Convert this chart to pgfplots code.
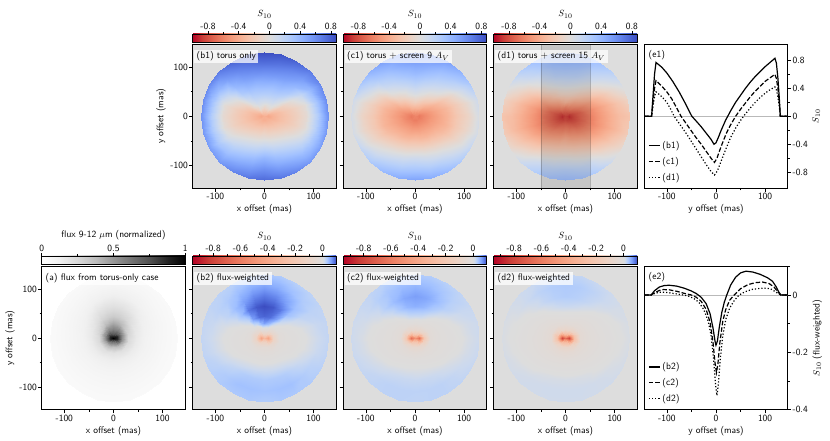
\documentclass[border=0pt]{standalone}
\usepackage{fontspec}
\usepackage{pgfplots}
\usepackage{pgfplotstable}
\pgfplotsset{compat=1.18}
\definecolor{bgg}{RGB}{221,221,221}

\pgfplotsset{
 colormap={cwtop}{rgb255(0pt)=(180,4,38) rgb255(125pt)=(203,62,56) rgb255(250pt)=(222,96,77) rgb255(375pt)=(236,127,99) rgb255(500pt)=(244,154,123) rgb255(625pt)=(247,177,148) rgb255(750pt)=(245,196,173) rgb255(875pt)=(236,211,197) rgb255(1000pt)=(221,221,221) rgb255(1109pt)=(204,217,238) rgb255(1218pt)=(184,208,249) rgb255(1326pt)=(163,194,255) rgb255(1435pt)=(141,176,254) rgb255(1544pt)=(119,154,247) rgb255(1653pt)=(98,130,234) rgb255(1761pt)=(77,104,215) rgb255(1870pt)=(59,76,192)},
 colormap={cwbot}{rgb255(0pt)=(180,4,38) rgb255(119pt)=(203,62,56) rgb255(238pt)=(222,96,77) rgb255(356pt)=(236,127,99) rgb255(475pt)=(244,154,123) rgb255(594pt)=(247,177,148) rgb255(713pt)=(245,196,173) rgb255(831pt)=(236,211,197) rgb255(950pt)=(221,221,221) rgb255(963pt)=(204,217,238) rgb255(975pt)=(184,208,249) rgb255(988pt)=(163,194,255) rgb255(1000pt)=(141,176,254) rgb255(1013pt)=(119,154,247) rgb255(1025pt)=(98,130,234) rgb255(1038pt)=(77,104,215) rgb255(1050pt)=(59,76,192)},
 colormap={greys}{rgb255(0pt)=(255,255,255) rgb255(1pt)=(240,240,240) rgb255(2pt)=(217,217,217) rgb255(3pt)=(189,189,189) rgb255(4pt)=(150,150,150) rgb255(5pt)=(115,115,115) rgb255(6pt)=(82,82,82) rgb255(7pt)=(37,37,37) rgb255(8pt)=(0,0,0)},
}

\pgfplotsset{
 base/.style={scale only axis, anchor=south west, tick align=outside,
   major tick length=3.5bp, minor tick length=2bp,
   tick style={black, line width=0.6bp}, axis line style={line width=0.7bp},
   xtick pos=left, no marks,
   /pgf/number format/assume math mode=true,
   tick label style={font=\sffamily\fontsize{9.5}{11}\selectfont, inner sep=1.2bp},
   xtick={-100,0,100}, minor xtick={-50,50},
   xmin=-146, xmax=146, width=143.5bp, height=143.5bp},
 hm/.style={base, ymin=-146, ymax=146, ytick={-100,0,100}, minor ytick={-50,50},
   ytick pos=left, xlabel={x offset (mas)}},
 cbcommon/.style={colorbar horizontal, colorbar shift/.style={},
   colorbar style={at={(parent axis.north west)}, anchor=south west,
   yshift=1.8bp, width=143.5bp, height=8.5bp, scale only axis,
   xtick pos=right, xticklabel pos=right, tick align=outside,
   major tick length=3bp, minor tick length=1.8bp,
   tick style={black, line width=0.6bp}, axis line style={line width=0.6bp},
   /pgf/number format/assume math mode=true,
   tick label style={font=\sffamily\fontsize{9.5}{11}\selectfont, inner sep=1.2bp}}},
 cbtop/.style={cbcommon, colormap name=cwtop, point meta min=-1, point meta max=0.87,
   colorbar style={xtick={-0.8,-0.4,0,0.4,0.8}, minor xtick={-0.6,-0.2,0.2,0.6}, xlabel={$S_{10}$}}},
 cbbot/.style={cbcommon, colormap name=cwbot, point meta min=-0.95, point meta max=0.1,
   colorbar style={xtick={-0.8,-0.6,-0.4,-0.2,0}, minor xtick={-0.9,-0.7,-0.5,-0.3,-0.1}, xlabel={$S_{10}$}}},
 cbgrey/.style={cbcommon, colormap name=greys, point meta min=0, point meta max=1,
   colorbar style={xtick={0,0.5,1}, minor xtick={0.25,0.75}, xlabel={flux 9-12 $\mu$m (normalized)}}},
 hmplot/.style={surf, shader=interp, data cs=polar, mesh/cols=25, point meta=explicit},
 elegend/.style={legend style={at={(0.02,0.025)}, anchor=south west, draw=none, fill=none,
    row sep=3.3bp, inner sep=1bp, font=\sffamily\fontsize{9.5}{11}\selectfont},
  legend cell align=left,
  legend image code/.code={\draw[##1] (0bp,0bp) -- (11bp,0bp);}},
}
\tikzset{lbl/.style={anchor=north west, xshift=1.3bp, yshift=-5.5bp, fill=white, fill opacity=0.75,
   text opacity=1, inner xsep=2.5bp, inner ysep=1.6bp}}

\pgfplotstableread{
t r b1 c1 d1 fa b2 c2 d2
-90 0 -0.38 -0.6 -0.85 1 -0.3 -0.5 -0.65
-75 0 -0.38 -0.6 -0.85 1 -0.3 -0.5 -0.65
-60 0 -0.38 -0.6 -0.85 1 -0.3 -0.5 -0.65
-45 0 -0.38 -0.6 -0.85 1 -0.3 -0.5 -0.65
-30 0 -0.38 -0.6 -0.85 1 -0.3 -0.5 -0.65
-15 0 -0.38 -0.6 -0.85 1 -0.3 -0.5 -0.65
0 0 -0.38 -0.6 -0.85 1 -0.3 -0.5 -0.65
15 0 -0.38 -0.6 -0.85 1 -0.3 -0.5 -0.65
30 0 -0.38 -0.6 -0.85 1 -0.3 -0.5 -0.65
45 0 -0.38 -0.6 -0.85 1 -0.3 -0.5 -0.65
60 0 -0.38 -0.6 -0.85 1 -0.3 -0.5 -0.65
75 0 -0.38 -0.6 -0.85 1 -0.3 -0.5 -0.65
90 0 -0.38 -0.6 -0.85 1 -0.3 -0.5 -0.65
105 0 -0.38 -0.6 -0.85 1 -0.3 -0.5 -0.65
120 0 -0.38 -0.6 -0.85 1 -0.3 -0.5 -0.65
135 0 -0.38 -0.6 -0.85 1 -0.3 -0.5 -0.65
150 0 -0.38 -0.6 -0.85 1 -0.3 -0.5 -0.65
165 0 -0.38 -0.6 -0.85 1 -0.3 -0.5 -0.65
180 0 -0.38 -0.6 -0.85 1 -0.3 -0.5 -0.65
195 0 -0.38 -0.6 -0.85 1 -0.3 -0.5 -0.65
210 0 -0.38 -0.6 -0.85 1 -0.3 -0.5 -0.65
225 0 -0.38 -0.6 -0.85 1 -0.3 -0.5 -0.65
240 0 -0.38 -0.6 -0.85 1 -0.3 -0.5 -0.65
255 0 -0.38 -0.6 -0.85 1 -0.3 -0.5 -0.65
270 0 -0.38 -0.6 -0.85 1 -0.3 -0.5 -0.65
-90 8 -0.38 -0.63 -0.82 0.60 -0.13 -0.21 -0.29
-75 8 -0.38 -0.63 -0.83 0.62 -0.13 -0.22 -0.30
-60 8 -0.37 -0.62 -0.84 0.66 -0.16 -0.26 -0.34
-45 8 -0.37 -0.62 -0.86 0.72 -0.22 -0.34 -0.44
-30 8 -0.38 -0.63 -0.88 0.80 -0.30 -0.46 -0.58
-15 8 -0.41 -0.64 -0.90 0.86 -0.38 -0.58 -0.72
0 8 -0.42 -0.64 -0.90 0.88 -0.42 -0.65 -0.80
15 8 -0.40 -0.63 -0.88 0.88 -0.38 -0.58 -0.72
30 8 -0.36 -0.60 -0.85 0.85 -0.30 -0.46 -0.58
45 8 -0.32 -0.57 -0.82 0.80 -0.22 -0.34 -0.44
60 8 -0.28 -0.54 -0.79 0.76 -0.16 -0.26 -0.34
75 8 -0.26 -0.52 -0.76 0.74 -0.13 -0.22 -0.30
90 8 -0.25 -0.50 -0.75 0.72 -0.12 -0.20 -0.28
105 8 -0.26 -0.52 -0.76 0.74 -0.13 -0.22 -0.30
120 8 -0.28 -0.54 -0.79 0.76 -0.16 -0.26 -0.34
135 8 -0.32 -0.57 -0.82 0.80 -0.22 -0.34 -0.44
150 8 -0.36 -0.60 -0.85 0.85 -0.30 -0.46 -0.58
165 8 -0.40 -0.63 -0.88 0.88 -0.38 -0.58 -0.72
180 8 -0.42 -0.64 -0.90 0.88 -0.42 -0.65 -0.80
195 8 -0.41 -0.64 -0.90 0.86 -0.38 -0.58 -0.72
210 8 -0.38 -0.63 -0.88 0.80 -0.30 -0.46 -0.58
225 8 -0.37 -0.62 -0.86 0.72 -0.22 -0.34 -0.44
240 8 -0.37 -0.62 -0.84 0.66 -0.16 -0.26 -0.34
255 8 -0.38 -0.63 -0.83 0.62 -0.13 -0.22 -0.30
270 8 -0.38 -0.63 -0.82 0.60 -0.13 -0.21 -0.29
-90 18 -0.27 -0.55 -0.70 0.35 -0.04 -0.07 -0.09
-75 18 -0.28 -0.55 -0.71 0.36 -0.04 -0.07 -0.09
-60 18 -0.29 -0.55 -0.74 0.38 -0.05 -0.08 -0.10
-45 18 -0.30 -0.55 -0.77 0.42 -0.07 -0.10 -0.13
-30 18 -0.31 -0.56 -0.80 0.46 -0.09 -0.14 -0.18
-15 18 -0.35 -0.58 -0.82 0.50 -0.11 -0.18 -0.24
0 18 -0.36 -0.58 -0.82 0.52 -0.12 -0.20 -0.26
15 18 -0.34 -0.57 -0.80 0.53 -0.11 -0.18 -0.24
30 18 -0.28 -0.52 -0.75 0.54 -0.09 -0.14 -0.18
45 18 -0.17 -0.47 -0.68 0.55 -0.07 -0.10 -0.13
60 18 -0.06 -0.40 -0.63 0.56 -0.05 -0.08 -0.10
75 18 -0.08 -0.36 -0.61 0.57 -0.03 -0.07 -0.09
90 18 -0.10 -0.33 -0.60 0.57 -0.02 -0.07 -0.09
105 18 -0.08 -0.36 -0.61 0.57 -0.03 -0.07 -0.09
120 18 -0.06 -0.40 -0.63 0.56 -0.05 -0.08 -0.10
135 18 -0.17 -0.47 -0.68 0.55 -0.07 -0.10 -0.13
150 18 -0.28 -0.52 -0.75 0.54 -0.09 -0.14 -0.18
165 18 -0.34 -0.57 -0.80 0.53 -0.11 -0.18 -0.24
180 18 -0.36 -0.58 -0.82 0.52 -0.12 -0.20 -0.26
195 18 -0.35 -0.58 -0.82 0.50 -0.11 -0.18 -0.24
210 18 -0.31 -0.56 -0.80 0.46 -0.09 -0.14 -0.18
225 18 -0.30 -0.55 -0.77 0.42 -0.07 -0.10 -0.13
240 18 -0.29 -0.55 -0.74 0.38 -0.05 -0.08 -0.10
255 18 -0.28 -0.55 -0.71 0.36 -0.04 -0.07 -0.09
270 18 -0.27 -0.55 -0.70 0.35 -0.04 -0.07 -0.09
-90 30 -0.15 -0.45 -0.58 0.20 -0.025 -0.035 -0.05
-75 30 -0.17 -0.45 -0.60 0.20 -0.025 -0.035 -0.05
-60 30 -0.19 -0.46 -0.63 0.21 -0.025 -0.035 -0.05
-45 30 -0.22 -0.47 -0.68 0.22 -0.025 -0.035 -0.05
-30 30 -0.25 -0.49 -0.72 0.23 -0.025 -0.035 -0.05
-15 30 -0.29 -0.51 -0.74 0.24 -0.025 -0.035 -0.05
0 30 -0.30 -0.52 -0.74 0.25 -0.025 -0.035 -0.05
15 30 -0.28 -0.50 -0.72 0.27 -0.025 -0.035 -0.05
30 30 -0.20 -0.44 -0.64 0.30 -0.02 -0.035 -0.05
45 30 -0.03 -0.36 -0.54 0.34 -0.01 -0.03 -0.045
60 30 0.08 -0.25 -0.45 0.39 0.01 -0.025 -0.04
75 30 0.07 -0.19 -0.38 0.43 0.04 -0.02 -0.035
90 30 0.06 -0.16 -0.35 0.44 0.06 -0.02 -0.035
105 30 0.07 -0.19 -0.38 0.43 0.04 -0.02 -0.035
120 30 0.08 -0.25 -0.45 0.39 0.01 -0.025 -0.04
135 30 -0.03 -0.36 -0.54 0.34 -0.01 -0.03 -0.045
150 30 -0.20 -0.44 -0.64 0.30 -0.02 -0.035 -0.05
165 30 -0.28 -0.50 -0.72 0.27 -0.025 -0.035 -0.05
180 30 -0.30 -0.52 -0.74 0.25 -0.025 -0.035 -0.05
195 30 -0.29 -0.51 -0.74 0.24 -0.025 -0.035 -0.05
210 30 -0.25 -0.49 -0.72 0.23 -0.025 -0.035 -0.05
225 30 -0.22 -0.47 -0.68 0.22 -0.025 -0.035 -0.05
240 30 -0.19 -0.46 -0.63 0.21 -0.025 -0.035 -0.05
255 30 -0.17 -0.45 -0.60 0.20 -0.025 -0.035 -0.05
270 30 -0.15 -0.45 -0.58 0.20 -0.025 -0.035 -0.05
-90 45 -0.03 -0.32 -0.42 0.14 -0.008 -0.012 -0.025
-75 45 -0.04 -0.33 -0.45 0.14 -0.008 -0.012 -0.025
-60 45 -0.06 -0.35 -0.49 0.14 -0.008 -0.015 -0.026
-45 45 -0.12 -0.37 -0.56 0.145 -0.01 -0.018 -0.028
-30 45 -0.18 -0.41 -0.62 0.15 -0.014 -0.02 -0.03
-15 45 -0.23 -0.44 -0.65 0.155 -0.015 -0.02 -0.03
0 45 -0.24 -0.45 -0.65 0.16 -0.015 -0.02 -0.03
15 45 -0.22 -0.43 -0.62 0.17 -0.012 -0.02 -0.03
30 45 -0.12 -0.35 -0.52 0.19 -0.005 -0.018 -0.028
45 45 0.07 -0.20 -0.38 0.23 0.015 -0.012 -0.025
60 45 0.20 -0.10 -0.25 0.27 0.06 0.0 -0.018
75 45 0.22 -0.02 -0.16 0.30 0.085 0.012 -0.012
90 45 0.23 0.03 -0.13 0.31 0.09 0.015 -0.01
105 45 0.22 -0.02 -0.16 0.30 0.085 0.012 -0.012
120 45 0.20 -0.10 -0.25 0.27 0.06 0.0 -0.018
135 45 0.07 -0.20 -0.38 0.23 0.015 -0.012 -0.025
150 45 -0.12 -0.35 -0.52 0.19 -0.005 -0.018 -0.028
165 45 -0.22 -0.43 -0.62 0.17 -0.012 -0.02 -0.03
180 45 -0.24 -0.45 -0.65 0.16 -0.015 -0.02 -0.03
195 45 -0.23 -0.44 -0.65 0.155 -0.015 -0.02 -0.03
210 45 -0.18 -0.41 -0.62 0.15 -0.014 -0.02 -0.03
225 45 -0.12 -0.37 -0.56 0.145 -0.01 -0.018 -0.028
240 45 -0.06 -0.35 -0.49 0.14 -0.008 -0.015 -0.026
255 45 -0.04 -0.33 -0.45 0.14 -0.008 -0.012 -0.025
270 45 -0.03 -0.32 -0.42 0.14 -0.008 -0.012 -0.025
-90 65 0.18 -0.12 -0.22 0.10 0.013 0.003 -0.007
-75 65 0.14 -0.14 -0.25 0.10 0.012 0.002 -0.008
-60 65 0.10 -0.17 -0.30 0.10 0.01 0.0 -0.01
-45 65 0.03 -0.22 -0.40 0.10 0.005 -0.005 -0.014
-30 65 -0.08 -0.30 -0.49 0.105 -0.004 -0.01 -0.018
-15 65 -0.15 -0.35 -0.54 0.11 -0.008 -0.012 -0.02
0 65 -0.16 -0.35 -0.53 0.11 -0.008 -0.012 -0.02
15 65 -0.14 -0.33 -0.50 0.12 -0.005 -0.01 -0.018
30 65 0.00 -0.22 -0.37 0.13 0.01 -0.005 -0.015
45 65 0.25 -0.02 -0.20 0.15 0.04 0.01 -0.008
60 65 0.35 0.07 -0.06 0.18 0.08 0.03 0.004
75 65 0.38 0.15 0.04 0.20 0.095 0.045 0.012
90 65 0.40 0.20 0.07 0.21 0.10 0.05 0.015
105 65 0.38 0.15 0.04 0.20 0.095 0.045 0.012
120 65 0.35 0.07 -0.06 0.18 0.08 0.03 0.004
135 65 0.25 -0.02 -0.20 0.15 0.04 0.01 -0.008
150 65 0.00 -0.22 -0.37 0.13 0.01 -0.005 -0.015
165 65 -0.14 -0.33 -0.50 0.12 -0.005 -0.01 -0.018
180 65 -0.16 -0.35 -0.53 0.11 -0.008 -0.012 -0.02
195 65 -0.15 -0.35 -0.54 0.11 -0.008 -0.012 -0.02
210 65 -0.08 -0.30 -0.49 0.105 -0.004 -0.01 -0.018
225 65 0.03 -0.22 -0.40 0.10 0.005 -0.005 -0.014
240 65 0.10 -0.17 -0.30 0.10 0.01 0.0 -0.01
255 65 0.14 -0.14 -0.25 0.10 0.012 0.002 -0.008
270 65 0.18 -0.12 -0.22 0.10 0.013 0.003 -0.007
-90 85 0.40 0.10 0.00 0.08 0.03 0.015 0.006
-75 85 0.34 0.07 -0.03 0.08 0.03 0.015 0.005
-60 85 0.28 0.02 -0.10 0.08 0.028 0.013 0.003
-45 85 0.18 -0.06 -0.23 0.08 0.02 0.008 -0.002
-30 85 0.05 -0.17 -0.35 0.082 0.01 0.002 -0.006
-15 85 -0.04 -0.22 -0.43 0.085 0.002 -0.004 -0.01
0 85 -0.06 -0.22 -0.42 0.085 0.0 -0.005 -0.01
15 85 -0.03 -0.20 -0.38 0.09 0.005 -0.002 -0.008
30 85 0.15 -0.08 -0.23 0.095 0.02 0.008 -0.004
45 85 0.38 0.12 -0.05 0.105 0.04 0.025 0.006
60 85 0.50 0.22 0.10 0.12 0.06 0.042 0.018
75 85 0.54 0.30 0.20 0.13 0.075 0.055 0.025
90 85 0.56 0.36 0.23 0.135 0.08 0.06 0.028
105 85 0.54 0.30 0.20 0.13 0.075 0.055 0.025
120 85 0.50 0.22 0.10 0.12 0.06 0.042 0.018
135 85 0.38 0.12 -0.05 0.105 0.04 0.025 0.006
150 85 0.15 -0.08 -0.23 0.095 0.02 0.008 -0.004
165 85 -0.03 -0.20 -0.38 0.09 0.005 -0.002 -0.008
180 85 -0.06 -0.22 -0.42 0.085 0.0 -0.005 -0.01
195 85 -0.04 -0.22 -0.43 0.085 0.002 -0.004 -0.01
210 85 0.05 -0.17 -0.35 0.082 0.01 0.002 -0.006
225 85 0.18 -0.06 -0.23 0.08 0.02 0.008 -0.002
240 85 0.28 0.02 -0.10 0.08 0.028 0.013 0.003
255 85 0.34 0.07 -0.03 0.08 0.03 0.015 0.005
270 85 0.40 0.10 0.00 0.08 0.03 0.015 0.006
-90 108 0.60 0.30 0.22 0.06 0.036 0.022 0.011
-75 108 0.53 0.26 0.18 0.06 0.038 0.022 0.011
-60 108 0.46 0.20 0.10 0.06 0.038 0.022 0.01
-45 108 0.36 0.10 -0.05 0.06 0.03 0.018 0.008
-30 108 0.28 -0.02 -0.20 0.06 0.022 0.012 0.004
-15 108 0.25 -0.10 -0.31 0.06 0.014 0.007 0.0
0 108 0.25 -0.12 -0.30 0.062 0.012 0.005 -0.002
15 108 0.28 -0.08 -0.25 0.065 0.015 0.008 0.0
30 108 0.38 0.10 -0.08 0.068 0.022 0.015 0.006
45 108 0.53 0.27 0.10 0.072 0.03 0.025 0.014
60 108 0.64 0.37 0.23 0.078 0.04 0.035 0.022
75 108 0.70 0.46 0.33 0.082 0.05 0.042 0.028
90 108 0.73 0.50 0.36 0.085 0.055 0.045 0.03
105 108 0.70 0.46 0.33 0.082 0.05 0.042 0.028
120 108 0.64 0.37 0.23 0.078 0.04 0.035 0.022
135 108 0.53 0.27 0.10 0.072 0.03 0.025 0.014
150 108 0.38 0.10 -0.08 0.068 0.022 0.015 0.006
165 108 0.28 -0.08 -0.25 0.065 0.015 0.008 0.0
180 108 0.25 -0.12 -0.30 0.062 0.012 0.005 -0.002
195 108 0.25 -0.10 -0.31 0.06 0.014 0.007 0.0
210 108 0.28 -0.02 -0.20 0.06 0.022 0.012 0.004
225 108 0.36 0.10 -0.05 0.06 0.03 0.018 0.008
240 108 0.46 0.20 0.10 0.06 0.038 0.022 0.01
255 108 0.53 0.26 0.18 0.06 0.038 0.022 0.011
270 108 0.60 0.30 0.22 0.06 0.036 0.022 0.011
-90 130 0.75 0.50 0.35 0.045 0.028 0.02 0.01
-75 130 0.70 0.45 0.31 0.045 0.032 0.022 0.01
-60 130 0.64 0.38 0.24 0.045 0.032 0.022 0.01
-45 130 0.55 0.27 0.10 0.045 0.03 0.02 0.01
-30 130 0.52 0.15 -0.08 0.045 0.025 0.017 0.008
-15 130 0.55 0.05 -0.20 0.045 0.02 0.014 0.006
0 130 0.58 0.05 -0.25 0.045 0.018 0.012 0.004
15 130 0.60 0.08 -0.14 0.046 0.018 0.012 0.005
30 130 0.62 0.27 0.05 0.048 0.02 0.016 0.008
45 130 0.68 0.42 0.22 0.05 0.022 0.02 0.012
60 130 0.78 0.52 0.34 0.052 0.025 0.024 0.015
75 130 0.84 0.58 0.42 0.054 0.03 0.028 0.018
90 130 0.87 0.62 0.44 0.055 0.035 0.03 0.02
105 130 0.84 0.58 0.42 0.054 0.03 0.028 0.018
120 130 0.78 0.52 0.34 0.052 0.025 0.024 0.015
135 130 0.68 0.42 0.22 0.05 0.022 0.02 0.012
150 130 0.62 0.27 0.05 0.048 0.02 0.016 0.008
165 130 0.60 0.08 -0.14 0.046 0.018 0.012 0.005
180 130 0.58 0.05 -0.25 0.045 0.018 0.012 0.004
195 130 0.55 0.05 -0.20 0.045 0.02 0.014 0.006
210 130 0.52 0.15 -0.08 0.045 0.025 0.017 0.008
225 130 0.55 0.27 0.10 0.045 0.03 0.02 0.01
240 130 0.64 0.38 0.24 0.045 0.032 0.022 0.01
255 130 0.70 0.45 0.31 0.045 0.032 0.022 0.01
270 130 0.75 0.50 0.35 0.045 0.028 0.02 0.01
}\fielddata

\begin{document}
\begin{tikzpicture}[font=\sffamily\fontsize{9.5}{11}\selectfont]
\useasboundingbox (0,0) rectangle (830bp,441bp);

% ---------------- top row ----------------
\begin{axis}[hm, cbtop, at={(192.7bp,252.7bp)}, height=144bp, ylabel={y offset (mas)},
  axis background/.style={fill=bgg}]
\addplot[hmplot] table[x=t, y=r, meta=b1] {\fielddata};
\node[lbl] at (rel axis cs:0,1) {(b1) torus only};
\end{axis}

\begin{axis}[hm, cbtop, at={(343.2bp,252.7bp)}, height=144bp, yticklabels={},
  axis background/.style={fill=bgg}]
\addplot[hmplot] table[x=t, y=r, meta=c1] {\fielddata};
\node[lbl] at (rel axis cs:0,1) {(c1) torus + screen 9 $A_V$};
\end{axis}

\begin{axis}[hm, cbtop, at={(493.7bp,252.7bp)}, height=144bp, yticklabels={},
  axis background/.style={fill=bgg}]
\addplot[hmplot] table[x=t, y=r, meta=d1] {\fielddata};
\addplot[draw=black, draw opacity=0.2, line width=0.5bp, fill=black, fill opacity=0.1]
  coordinates {(-50,-146) (50,-146) (50,146) (-50,146) (-50,-146)};
\node[lbl] at (rel axis cs:0,1) {(d1) torus + screen 15 $A_V$};
\end{axis}

\begin{axis}[base, elegend, at={(644.2bp,252.7bp)}, height=144bp, ymin=-1.03, ymax=1.03,
  ytick={-0.8,-0.4,0,0.4,0.8}, minor ytick={-0.6,-0.2,0.2,0.6},
  ytick pos=right, yticklabel pos=right,
  xlabel={y offset (mas)}, ylabel={$S_{10}$}]
\addplot[gray!55, line width=0.5bp, forget plot] coordinates {(-146,0) (146,0)};
\addplot[black, line width=1.2bp] coordinates {(-146,0) (-131,0) (-128,0.3) (-125,0.6) (-122,0.77) (-115,0.73) (-110,0.7) (-100,0.62) (-88,0.5) (-75,0.35) (-62,0.18) (-52,0.04) (-49,0) (-40,-0.07) (-30,-0.15) (-20,-0.24) (-10,-0.33) (-4,-0.40) (0,-0.38) (5,-0.30) (10,-0.21) (15,-0.13) (20,-0.05) (24,0) (30,0.08) (40,0.2) (50,0.3) (60,0.4) (70,0.49) (80,0.57) (90,0.64) (100,0.71) (110,0.77) (120,0.83) (123,0.76) (126,0.55) (129,0.25) (131,0) (146,0)};
\addlegendentry{(b1)}
\addplot[black, line width=1.2bp, dash pattern=on 4.5bp off 2bp] coordinates {(-146,0) (-131,0) (-128,0.2) (-125,0.4) (-122,0.51) (-110,0.43) (-100,0.35) (-90,0.25) (-80,0.12) (-71,0) (-60,-0.11) (-50,-0.21) (-40,-0.31) (-30,-0.4) (-20,-0.5) (-10,-0.6) (-3,-0.66) (2,-0.6) (8,-0.48) (15,-0.35) (22,-0.23) (30,-0.12) (40,0) (50,0.1) (60,0.19) (70,0.28) (80,0.36) (90,0.43) (100,0.5) (110,0.55) (120,0.6) (123,0.54) (126,0.4) (129,0.18) (131,0) (146,0)};
\addlegendentry{(c1)}
\addplot[black, line width=1.2bp, dash pattern=on 1.2bp off 2bp] coordinates {(-146,0) (-131,0) (-128,0.15) (-125,0.28) (-122,0.35) (-110,0.28) (-100,0.2) (-92,0.1) (-85,0) (-75,-0.1) (-60,-0.25) (-50,-0.36) (-40,-0.47) (-30,-0.58) (-20,-0.69) (-10,-0.79) (-3,-0.84) (3,-0.78) (10,-0.65) (20,-0.47) (30,-0.3) (40,-0.17) (48,-0.08) (56,0) (70,0.12) (80,0.2) (90,0.27) (100,0.33) (110,0.38) (120,0.42) (123,0.38) (126,0.28) (129,0.13) (131,0) (146,0)};
\addlegendentry{(d1)}
\node[anchor=north west, xshift=1bp, yshift=-3bp] at (rel axis cs:0,1) {(e1)};
\end{axis}

% ---------------- bottom row ----------------
\begin{axis}[hm, cbgrey, at={(41.7bp,31.2bp)}, ylabel={y offset (mas)}]
\addplot[hmplot] table[x=t, y=r, meta=fa] {\fielddata};
\node[lbl] at (rel axis cs:0,1) {(a) flux from torus-only case};
\end{axis}

\begin{axis}[hm, cbbot, at={(192.7bp,31.2bp)}, yticklabels={},
  axis background/.style={fill=bgg}]
\addplot[hmplot] table[x=t, y=r, meta=b2] {\fielddata};
\node[lbl] at (rel axis cs:0,1) {(b2) flux-weighted};
\end{axis}

\begin{axis}[hm, cbbot, at={(343.2bp,31.2bp)}, yticklabels={},
  axis background/.style={fill=bgg}]
\addplot[hmplot] table[x=t, y=r, meta=c2] {\fielddata};
\node[lbl] at (rel axis cs:0,1) {(c2) flux-weighted};
\end{axis}

\begin{axis}[hm, cbbot, at={(493.7bp,31.2bp)}, yticklabels={},
  axis background/.style={fill=bgg}]
\addplot[hmplot] table[x=t, y=r, meta=d2] {\fielddata};
\node[lbl] at (rel axis cs:0,1) {(d2) flux-weighted};
\end{axis}

\begin{axis}[base, elegend, at={(644.2bp,31.2bp)}, ymin=-0.4, ymax=0.1,
  ytick={-0.4,-0.2,0}, minor ytick={-0.3,-0.1,0.1},
  ytick pos=right, yticklabel pos=right,
  xlabel={y offset (mas)}, ylabel={$S_{10}$ (flux-weighted)}]
\addplot[gray!55, line width=0.5bp, forget plot] coordinates {(-146,0) (146,0)};
\addplot[black, line width=1.2bp] coordinates {(-146,0) (-132,0) (-125,0.015) (-115,0.028) (-105,0.033) (-95,0.034) (-80,0.031) (-65,0.024) (-50,0.014) (-40,0.005) (-30,-0.008) (-20,-0.03) (-12,-0.065) (-6,-0.115) (-2,-0.16) (0,-0.175) (3,-0.16) (7,-0.11) (12,-0.06) (17,-0.025) (22,0) (30,0.035) (40,0.062) (50,0.077) (61,0.083) (75,0.08) (90,0.072) (105,0.06) (115,0.048) (122,0.03) (128,0.01) (132,0) (146,0)};
\addlegendentry{(b2)}
\addplot[black, line width=1.2bp, dash pattern=on 4.5bp off 2bp] coordinates {(-146,0) (-132,0) (-125,0.008) (-115,0.016) (-107,0.019) (-95,0.018) (-80,0.013) (-65,0.006) (-50,0) (-40,-0.008) (-30,-0.022) (-20,-0.05) (-12,-0.095) (-6,-0.165) (-2,-0.235) (1,-0.27) (4,-0.24) (8,-0.165) (14,-0.09) (20,-0.05) (28,-0.018) (37,0) (50,0.022) (65,0.036) (80,0.043) (95,0.045) (108,0.04) (118,0.028) (125,0.013) (132,0) (146,0)};
\addlegendentry{(c2)}
\addplot[black, line width=1.2bp, dash pattern=on 1.2bp off 2bp] coordinates {(-146,0) (-132,0) (-125,0.005) (-115,0.01) (-100,0.009) (-85,0.005) (-70,0.001) (-57,-0.003) (-45,-0.012) (-35,-0.025) (-25,-0.05) (-16,-0.09) (-10,-0.14) (-5,-0.22) (-1,-0.31) (2,-0.35) (5,-0.31) (9,-0.22) (14,-0.14) (20,-0.085) (28,-0.045) (37,-0.02) (47,0) (60,0.012) (75,0.02) (90,0.023) (103,0.024) (113,0.02) (122,0.01) (128,0.004) (132,0) (146,0)};
\addlegendentry{(d2)}
\node[anchor=north west, xshift=1bp, yshift=-3bp] at (rel axis cs:0,1) {(e2)};
\end{axis}
\end{tikzpicture}
\end{document}
